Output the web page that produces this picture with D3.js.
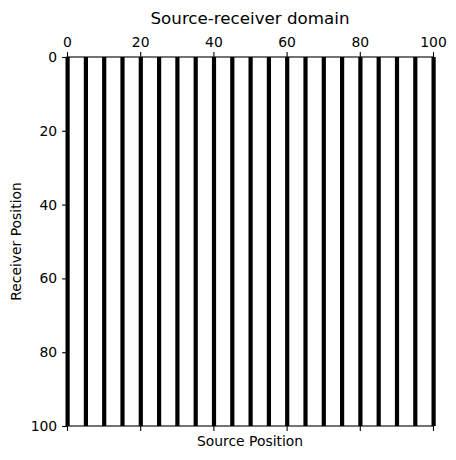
<!DOCTYPE html>
<html>
<head>
<meta charset="utf-8">
<script src="https://cdn.jsdelivr.net/npm/d3@7"></script>
<style>
  html, body { margin: 0; padding: 0; background: #fff; }
  text { font-family: "DejaVu Sans", sans-serif; fill: #000; }
</style>
</head>
<body>
<svg id="chart" width="456" height="460"></svg>
<script>
const sourcePositions = [0, 5, 10, 15, 20, 25, 30, 35, 40, 45, 50, 55, 60, 65, 70, 75, 80, 85, 90, 95, 100];
const receiverRange = [0, 100];
const xTicks = [0, 20, 40, 60, 80, 100];
const yTicks = [0, 20, 40, 60, 80, 100];
const titleText = "Source-receiver domain";
const xLabelText = "Source Position";
const yLabelText = "Receiver Position";

const svg = d3.select("#chart");
const margin = { left: 67, top: 57, right: 23, bottom: 34 };
const W = 456 - margin.left - margin.right;
const H = 460 - margin.top - margin.bottom;

const x = d3.scaleLinear().domain([0, 100]).range([0, W]);
const y = d3.scaleLinear().domain(receiverRange).range([0, H]);

const g = svg.append("g").attr("transform", `translate(${margin.left},${margin.top})`);

// white background for axes
g.append("rect").attr("width", W).attr("height", H).attr("fill", "#fff");

// vertical lines
g.selectAll("line.src").data(sourcePositions).enter().append("line")
  .attr("class", "src")
  .attr("x1", d => x(d) + 0.6).attr("x2", d => x(d) + 0.6)
  .attr("y1", y(receiverRange[0])).attr("y2", y(receiverRange[1]))
  .attr("stroke", "#000").attr("stroke-width", 4.2);

const tickLen = 4.9, pad = 4.9, fs = 13.9;

function styleAxis(sel) {
  sel.select(".domain").remove();
  sel.selectAll(".tick line").attr("stroke", "#000").attr("stroke-width", 1.1);
  sel.selectAll(".tick text").attr("font-size", fs).attr("font-family", "DejaVu Sans, sans-serif").attr("fill", "#000");
}

// top axis with labels
g.append("g")
  .call(d3.axisTop(x).tickValues(xTicks).tickSize(tickLen).tickPadding(pad).tickFormat(d3.format("d")))
  .call(styleAxis);

// bottom axis, no labels
g.append("g").attr("transform", `translate(0,${H})`)
  .call(d3.axisBottom(x).tickValues(xTicks).tickSize(tickLen).tickFormat(""))
  .call(styleAxis);

// left axis
g.append("g")
  .call(d3.axisLeft(y).tickValues(yTicks).tickSize(tickLen).tickPadding(pad).tickFormat(d3.format("d")))
  .call(styleAxis);

// spines
g.append("rect").attr("width", W).attr("height", H)
  .attr("fill", "none").attr("stroke", "#000").attr("stroke-width", 1.1);

// title
svg.append("text").attr("x", margin.left + W / 2).attr("y", 24)
  .attr("text-anchor", "middle").attr("font-size", 16.7).text(titleText);

// x label
svg.append("text").attr("x", margin.left + W / 2).attr("y", 446)
  .attr("text-anchor", "middle").attr("font-size", fs).text(xLabelText);

// y label
svg.append("text")
  .attr("transform", `translate(21,${margin.top + H / 2}) rotate(-90)`)
  .attr("text-anchor", "middle").attr("font-size", fs).text(yLabelText);
</script>
</body>
</html>
